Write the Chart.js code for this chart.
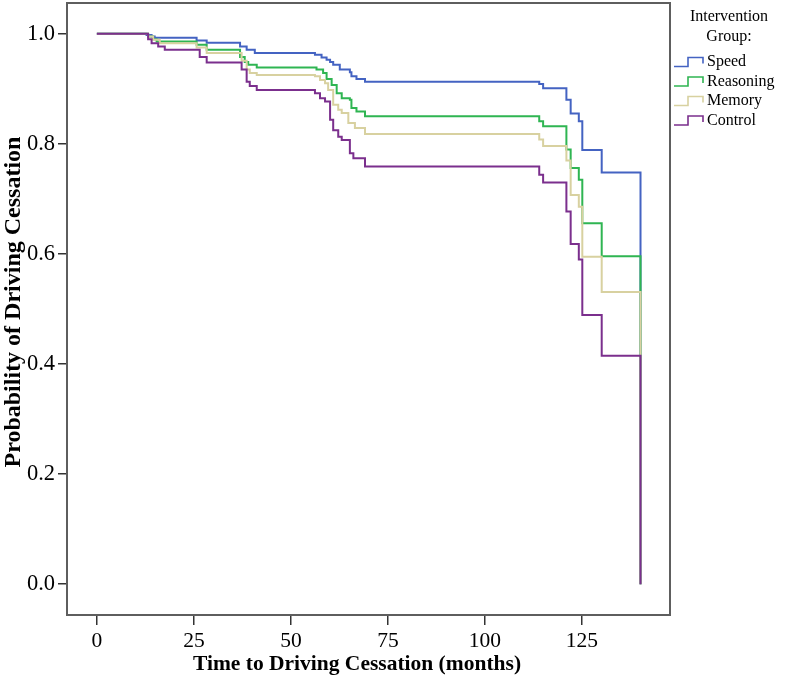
<!DOCTYPE html>
<html lang="en">
<head>
  <meta charset="UTF-8" />
  <title>Probability of Driving Cessation by Intervention Group</title>
  <script src="https://cdn.jsdelivr.net/npm/chart.js"></script>
  <style>
    html, body { margin: 0; padding: 0; background: #fff; }
  </style>
</head>
<body>
  <canvas id="kmChart" width="787" height="681"></canvas>

  <script>
    // groups and colours
    const groups = ['Speed', 'Reasoning', 'Memory', 'Control'];
    const groupColors = ['#4463c2', '#2fb552', '#d8d1a0', '#7b2f8d'];

    // step curves: event time (months) and survival after the step
    const speedTime = [0, 12.8, 14.1, 14.9, 25.7, 28.3, 36.9, 38.6, 40.7, 56.2, 57.9, 59.2, 60.1, 60.9, 62.6, 65.2, 65.6, 66.9, 69.1, 114.0, 115.0, 121.0, 122.1, 124.2, 125.1, 130.1, 140.1];
    const speedProb = [1.0, 0.998, 0.995, 0.993, 0.988, 0.984, 0.977, 0.971, 0.965, 0.962, 0.957, 0.953, 0.949, 0.944, 0.935, 0.930, 0.923, 0.918, 0.913, 0.909, 0.901, 0.880, 0.855, 0.841, 0.789, 0.748, 0];

    const reasoningTime = [0, 13.2, 14.5, 15.4, 25.7, 28.3, 36.9, 38.1, 39.0, 41.2, 56.6, 58.3, 59.2, 60.5, 61.8, 63.1, 65.2, 65.6, 66.9, 69.1, 114.0, 115.0, 121.0, 122.1, 124.2, 125.1, 130.1, 140.1];
    const reasoningProb = [1.0, 0.995, 0.990, 0.986, 0.980, 0.971, 0.958, 0.949, 0.944, 0.939, 0.935, 0.929, 0.918, 0.907, 0.892, 0.883, 0.880, 0.865, 0.859, 0.850, 0.841, 0.832, 0.790, 0.756, 0.735, 0.656, 0.596, 0];

    const memoryTime = [0, 13.2, 14.5, 16.2, 25.7, 28.3, 37.3, 38.6, 39.4, 41.2, 56.2, 57.5, 58.8, 59.6, 60.9, 62.2, 63.1, 64.8, 66.5, 69.1, 114.0, 115.0, 121.0, 122.1, 124.2, 125.1, 130.1, 140.1];
    const memoryProb = [1.0, 0.995, 0.989, 0.983, 0.975, 0.965, 0.951, 0.935, 0.929, 0.925, 0.923, 0.916, 0.910, 0.898, 0.871, 0.862, 0.856, 0.838, 0.829, 0.818, 0.808, 0.796, 0.770, 0.707, 0.686, 0.595, 0.531, 0];

    const controlTime = [0, 13.2, 14.1, 15.8, 17.5, 26.5, 28.3, 37.3, 38.6, 39.4, 41.2, 56.2, 57.5, 58.8, 60.1, 60.9, 62.2, 63.1, 65.2, 66.1, 69.1, 114.0, 115.0, 121.0, 122.1, 124.2, 125.1, 130.1, 140.1];
    const controlProb = [1.0, 0.990, 0.983, 0.977, 0.971, 0.958, 0.948, 0.935, 0.913, 0.905, 0.898, 0.892, 0.883, 0.877, 0.844, 0.825, 0.813, 0.807, 0.783, 0.774, 0.759, 0.744, 0.730, 0.677, 0.618, 0.590, 0.489, 0.415, 0];

    const xTicks = [0, 25, 50, 75, 100, 125];
    const yTicks = [0, 0.2, 0.4, 0.6, 0.8, 1.0];

    const curves = [
      [speedTime, speedProb],
      [reasoningTime, reasoningProb],
      [memoryTime, memoryProb],
      [controlTime, controlProb]
    ];

    const serif = "'Liberation Serif', 'Times New Roman', serif";
    Chart.defaults.font.family = serif;
    Chart.defaults.color = '#000';

    // box round the plot area + axis titles (drawn by hand so they can sit off-centre)
    const frame = {
      id: 'frame',
      afterDatasetsDraw(chart) {
        const a = chart.chartArea;
        const ctx = chart.ctx;
        ctx.save();
        ctx.strokeStyle = '#5e5e5e';
        ctx.lineWidth = 2;
        ctx.strokeRect(a.left, a.top, a.right - a.left, a.bottom - a.top);
        ctx.fillStyle = '#000';
        ctx.textAlign = 'center';
        ctx.textBaseline = 'middle';
        ctx.font = 'bold 21.5px ' + serif;
        ctx.fillText('Time to Driving Cessation (months)', 357, 664);
        ctx.translate(14, 302);
        ctx.rotate(-Math.PI / 2);
        ctx.font = 'bold 24px ' + serif;
        ctx.fillText('Probability of Driving Cessation', 0, 0);
        ctx.restore();
      }
    };

    // legend with step-shaped icons, right of the plot
    const groupLegend = {
      id: 'groupLegend',
      afterDraw(chart) {
        const ctx = chart.ctx;
        const x0 = chart.chartArea.right + 4;
        ctx.save();
        ctx.fillStyle = '#000';
        ctx.font = '16px ' + serif;
        ctx.textAlign = 'center';
        ctx.textBaseline = 'middle';
        ctx.fillText('Intervention', 729, 17);
        ctx.fillText('Group:', 729, 37);
        ctx.textAlign = 'left';
        chart.data.datasets.forEach((ds, i) => {
          const y = 62 + i * 19.5;
          ctx.strokeStyle = ds.borderColor;
          ctx.lineWidth = 1.6;
          ctx.beginPath();
          ctx.moveTo(x0, y + 4.5);
          ctx.lineTo(x0 + 14, y + 4.5);
          ctx.lineTo(x0 + 14, y - 4.5);
          ctx.lineTo(x0 + 29, y - 4.5);
          ctx.lineTo(x0 + 29, y + 1.5);
          ctx.stroke();
          ctx.fillText(ds.label, x0 + 33, y);
        });
        ctx.restore();
      }
    };

    const ctx = document.getElementById('kmChart').getContext('2d');
    new Chart(ctx, {
      type: 'line',
      data: {
        datasets: groups.map((g, i) => ({
          label: g,
          data: curves[i][0].map((t, k) => ({ x: t, y: curves[i][1][k] })),
          borderColor: groupColors[i],
          borderWidth: 2,
          stepped: 'before',
          pointRadius: 0,
          fill: false,
          order: groups.length - i
        }))
      },
      options: {
        responsive: false,
        animation: false,
        layout: { padding: { top: 3, right: 117, bottom: 0, left: 0 } },
        plugins: {
          legend: { display: false },
          tooltip: { enabled: false }
        },
        scales: {
          x: {
            type: 'linear',
            min: -7.7,
            max: 147.7,
            afterBuildTicks: s => { s.ticks = xTicks.map(v => ({ value: v })); },
            afterFit: s => { s.height = 66; s.paddingLeft = 0; s.paddingRight = 0; },
            grid: { drawOnChartArea: false, tickLength: 10, color: '#333', lineWidth: 1.5 },
            border: { display: false },
            ticks: { font: { size: 21.5 }, padding: 3, maxRotation: 0, callback: v => String(v) },
            title: { display: false }
          },
          y: {
            type: 'linear',
            min: -0.056,
            max: 1.056,
            afterBuildTicks: s => { s.ticks = yTicks.map(v => ({ value: v })); },
            afterFit: s => { s.width = 67; s.paddingTop = 0; s.paddingBottom = 0; },
            grid: { drawOnChartArea: false, tickLength: 9, color: '#333', lineWidth: 1.5 },
            border: { display: false },
            ticks: { font: { size: 22.5 }, padding: 3, callback: v => v.toFixed(1) },
            title: { display: false }
          }
        }
      },
      plugins: [frame, groupLegend]
    });
  </script>
</body>
</html>
